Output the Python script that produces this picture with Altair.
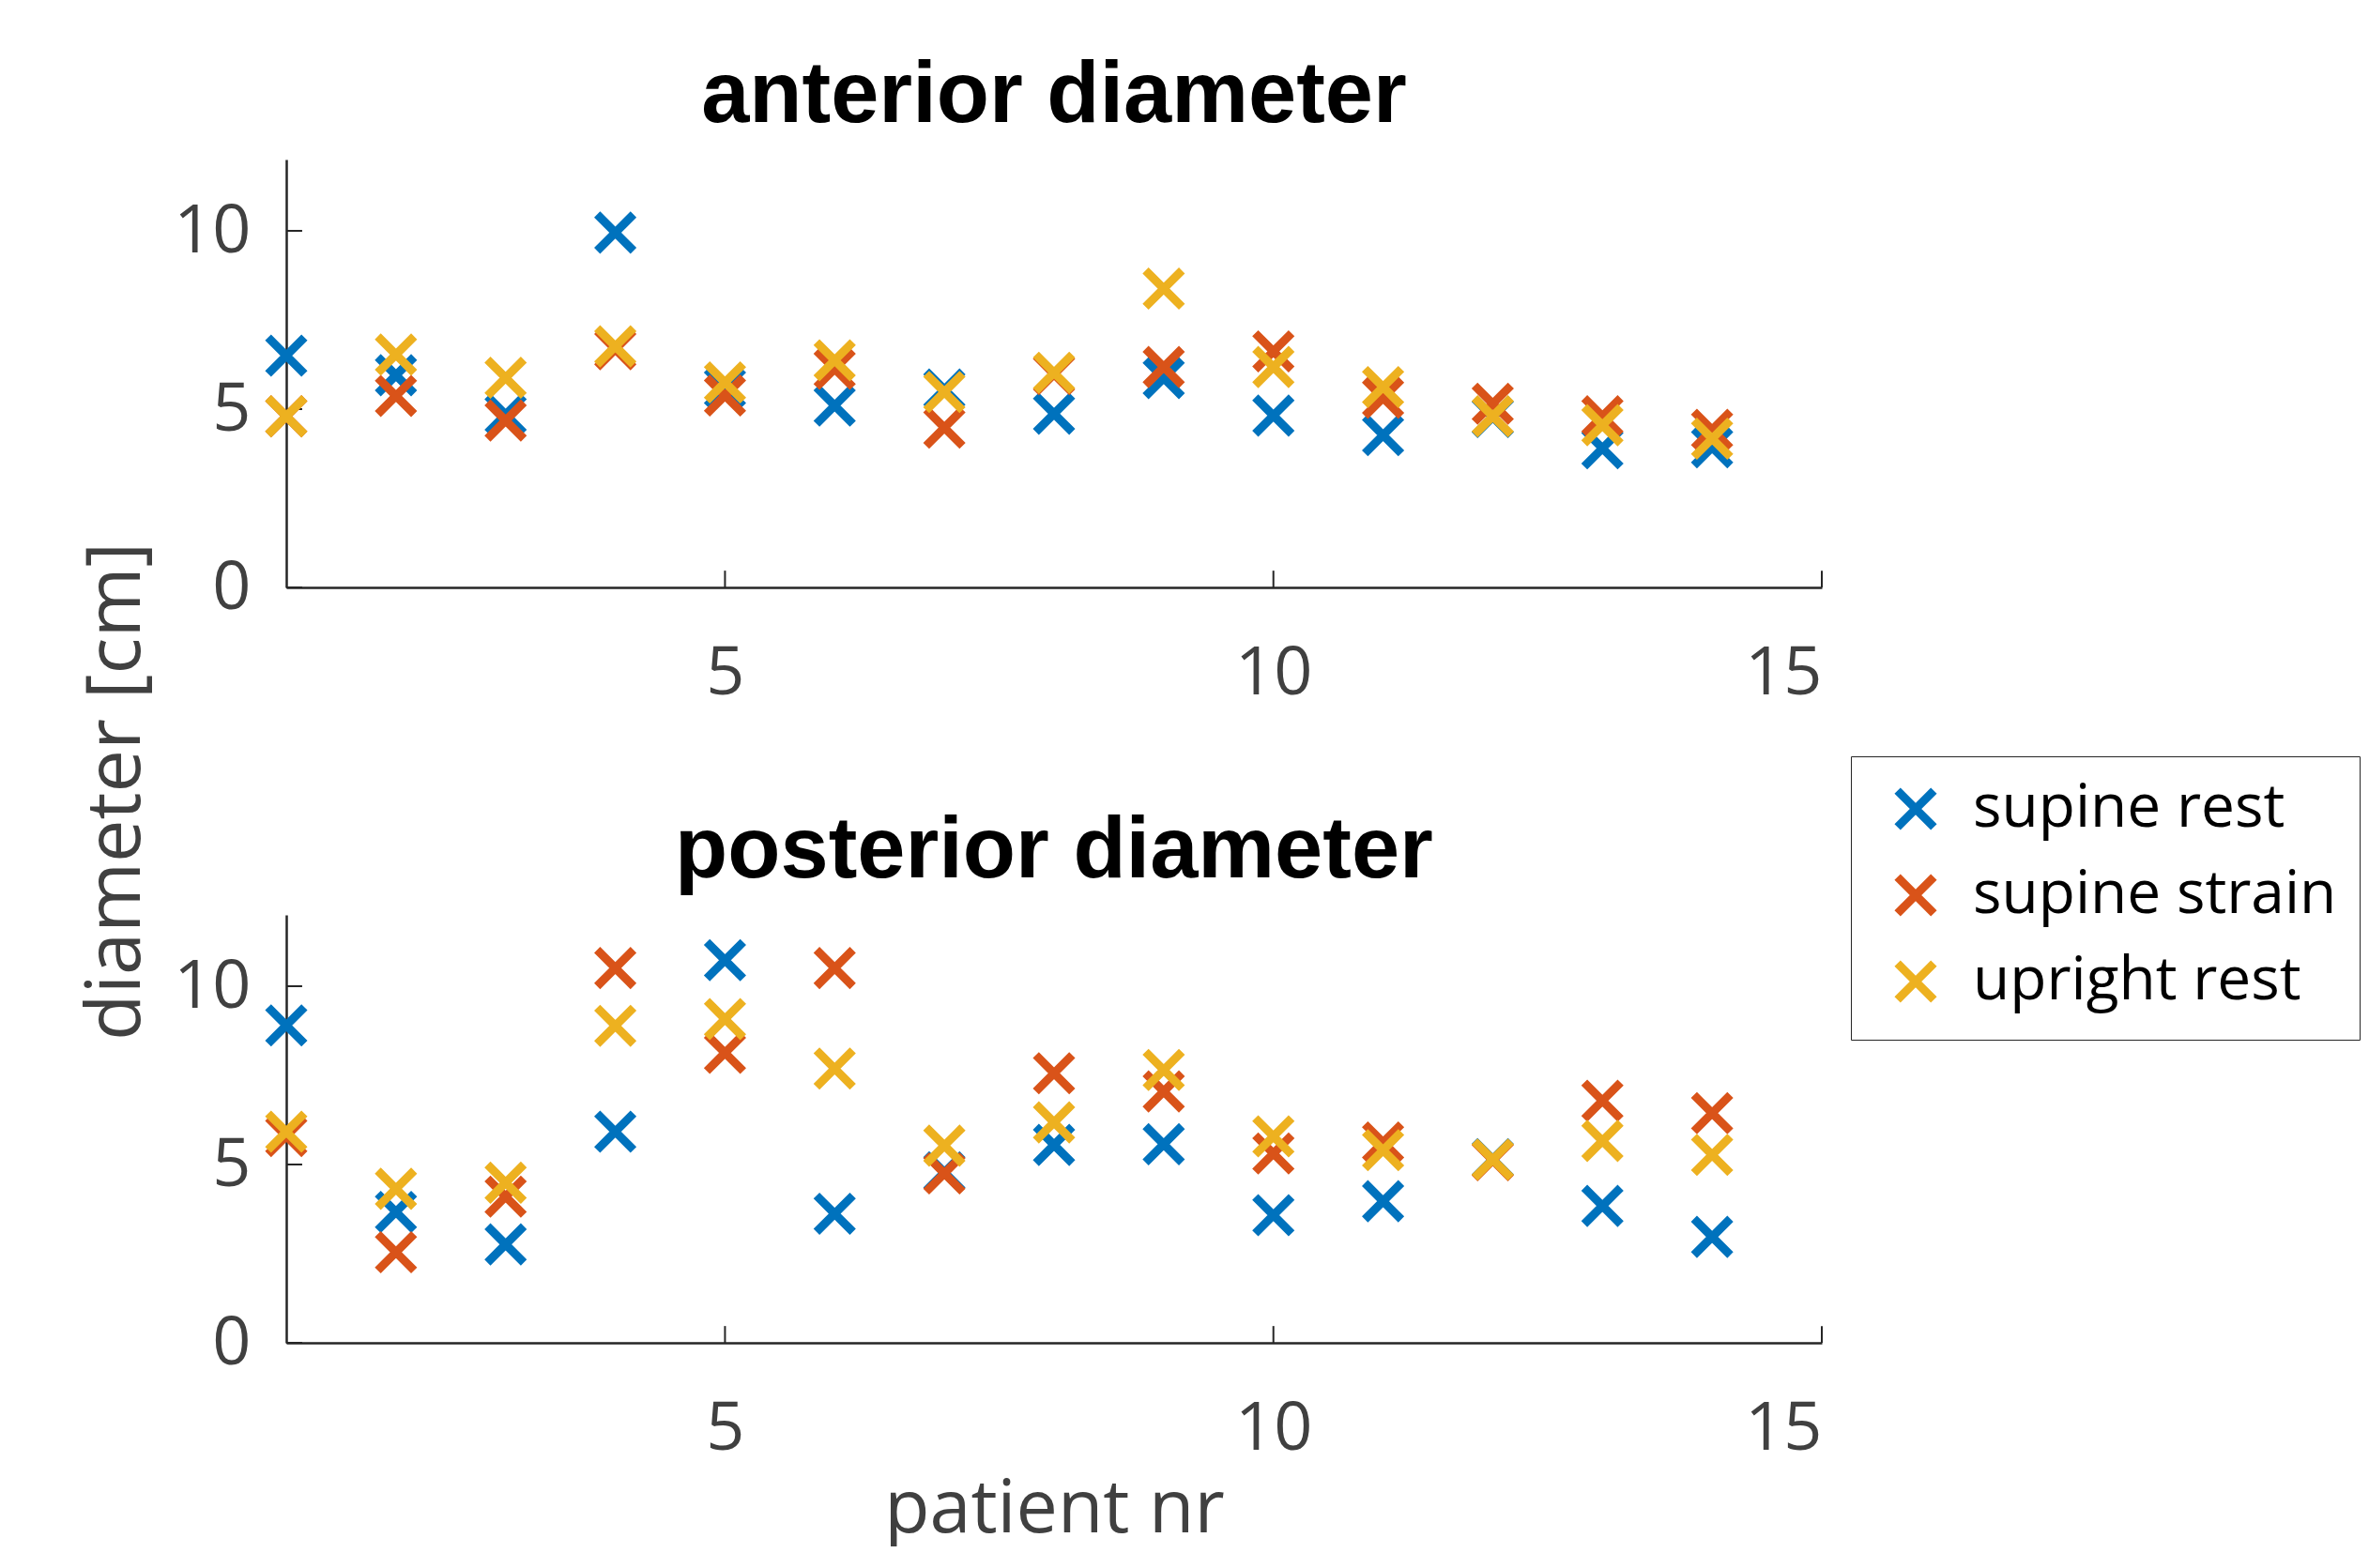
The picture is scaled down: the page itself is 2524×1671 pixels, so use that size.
import altair as alt
import pandas as pd

patients = list(range(1, 15))
series_names = ["supine rest", "supine strain", "upright rest"]
series_colors = ["#0072BD", "#D95319", "#EDB120"]

ant_supine_rest = [6.5, 5.95, 4.85, 9.95, 5.6, 5.1, 5.55, 4.87, 5.87, 4.82, 4.27, 4.78, 3.9, 3.93]
ant_supine_strain = [4.8, 5.37, 4.68, 6.68, 5.38, 6.13, 4.48, 5.98, 6.18, 6.62, 5.32, 5.15, 4.8, 4.42]
ant_upright_rest = [4.8, 6.53, 5.88, 6.76, 5.75, 6.37, 5.48, 6.02, 8.38, 6.18, 5.62, 4.8, 4.55, 4.17]

post_supine_rest = [8.9, 3.67, 2.76, 5.92, 10.73, 3.62, 4.78, 5.55, 5.57, 3.58, 3.97, 5.15, 3.84, 2.97]
post_supine_strain = [5.8, 2.54, 4.1, 10.51, 8.13, 10.51, 4.75, 7.56, 7.05, 5.31, 5.62, 5.12, 6.79, 6.44]
post_upright_rest = [5.92, 4.32, 4.49, 8.89, 9.08, 7.69, 5.53, 6.18, 7.65, 5.79, 5.4, 5.14, 5.66, 5.27]

x_ticks = [5, 10, 15]
y_ticks = [0, 5, 10]

XPATH = "M-1,-1L1,1M-1,1L1,-1"
AXIS_GRAY = "#262626"
TEXT_GRAY = "#404040"
W, H = 1636, 456
XDOM, YDOM = [1, 15], [0, 12]
XTICK_LEN = 0.47   # data units of y
YTICK_LEN = 0.145  # data units of x
MSIZE, MSTROKE = 1500, 9


def long_df(a, b, c):
    rows = []
    for name, vals in zip(series_names, [a, b, c]):
        for p, v in zip(patients, vals):
            rows.append({"patient": p, "diameter": v, "series": name})
    return pd.DataFrame(rows)


xtick_df = pd.DataFrame({"x": x_ticks, "y0": [0] * len(x_ticks), "y1": [XTICK_LEN] * len(x_ticks)})
ytick_df = pd.DataFrame({"y": y_ticks, "x0": [XDOM[0]] * len(y_ticks), "x1": [XDOM[0] + YTICK_LEN] * len(y_ticks)})


def panel(df, title, show_xtitle, show_ytitle):
    xaxis = alt.Axis(values=x_ticks, format="d", title="patient nr" if show_xtitle else None,
                     labelPadding=56, titlePadding=12)
    if show_ytitle:
        yaxis = alt.Axis(values=y_ticks, format="d", title="diameter [cm]", labelPadding=38,
                         titleX=-157, titleY=673, titleAngle=270, titleBaseline="alphabetic",
                         titleAlign="center", titleFontSize=81)
    else:
        yaxis = alt.Axis(values=y_ticks, format="d", title=None, labelPadding=38)
    pts = alt.Chart(df).mark_point(shape=XPATH, filled=False, size=MSIZE, strokeWidth=MSTROKE, opacity=1).encode(
        x=alt.X("patient:Q", scale=alt.Scale(domain=XDOM, nice=False, zero=False), axis=xaxis),
        y=alt.Y("diameter:Q", scale=alt.Scale(domain=YDOM, nice=False), axis=yaxis),
        color=alt.Color("series:N", sort=series_names,
                        scale=alt.Scale(domain=series_names, range=series_colors),
                        legend=alt.Legend(title=None, orient="none", legendX=1667, legendY=636,
                                          symbolType=XPATH, symbolSize=MSIZE, symbolStrokeWidth=MSTROKE,
                                          labelFont="Open Sans", labelFontSize=64, labelColor="black",
                                          labelLimit=2000,
                                          strokeColor=AXIS_GRAY, fillColor="white", padding=24,
                                          rowPadding=16, symbolOffset=13, labelOffset=29)),
        order=alt.Order("order:Q"),
    ).transform_calculate(order="indexof(['supine rest','supine strain','upright rest'], datum.series)")
    xt = alt.Chart(xtick_df).mark_rule(color=AXIS_GRAY, strokeWidth=2).encode(
        x="x:Q", y="y0:Q", y2="y1:Q")
    yt = alt.Chart(ytick_df).mark_rule(color=AXIS_GRAY, strokeWidth=2).encode(
        y="y:Q", x="x0:Q", x2="x1:Q")
    return alt.layer(xt, yt, pts).properties(
        width=W, height=H,
        title=alt.TitleParams(title, font="Liberation Sans", fontSize=92, fontWeight="bold",
                              color="black", anchor="middle", baseline="bottom", offset=-71),
    )


top = panel(long_df(ant_supine_rest, ant_supine_strain, ant_upright_rest), "anterior diameter", False, True)
bottom = panel(long_df(post_supine_rest, post_supine_strain, post_upright_rest), "posterior diameter", True, False)

chart = alt.vconcat(top, bottom, spacing=349, bounds="flush").configure_axis(
    labelFont="Open Sans", labelFontSize=72, labelColor=TEXT_GRAY,
    titleFont="Open Sans", titleFontSize=79, titleColor=TEXT_GRAY, titleFontWeight="normal",
    domainColor=AXIS_GRAY, domainWidth=2.5, ticks=False, grid=False,
).configure_view(stroke=None).properties(background="white", padding={"left": 75, "top": 48, "right": 0, "bottom": 0})

chart.save("out.html", embed_options={"renderer": "svg", "actions": False})
